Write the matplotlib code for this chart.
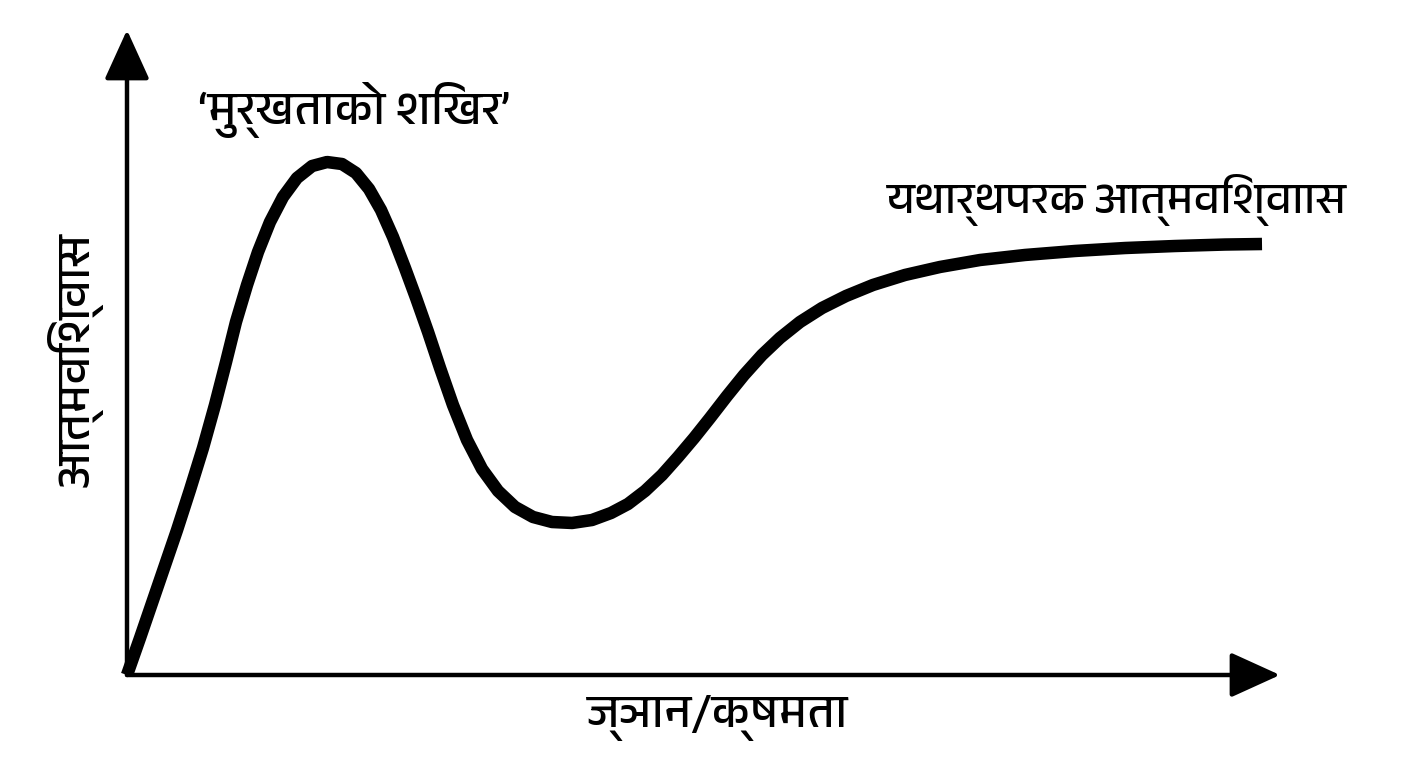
import matplotlib
matplotlib.use('Agg')
import matplotlib.pyplot as plt
from matplotlib import font_manager
from matplotlib.ft2font import FT2Font

# find an installed font that has Devanagari glyphs
deva = None
for f in sorted(font_manager.fontManager.ttflist, key=lambda f: 'Devanagari' not in f.name):
    try:
        if FT2Font(f.fname).get_char_index(0x0915):
            deva = f.name
            break
    except Exception:
        pass
families = [deva, 'DejaVu Sans'] if deva else ['DejaVu Sans']

# knowledge (x) vs confidence (y), 0-100 scale
knowledge = [0, 1.13, 2.17, 3.30, 4.34, 5.46, 6.59, 7.63, 8.59, 9.45, 10.41, 11.36,
             12.40, 13.53, 14.74, 16.05, 17.35, 18.65, 19.86, 20.99, 22.03, 23.07,
             24.11, 25.07, 26.11, 27.15, 28.27, 29.49, 30.79, 32.18, 33.65, 35.21,
             36.86, 38.60, 40.33, 41.98, 43.45, 44.93, 46.40, 47.79, 49.18, 50.56,
             52.04, 53.51, 55.07, 56.63, 58.37, 60.28, 62.36, 64.70, 67.48, 70.51,
             73.98, 77.88, 82.22, 86.56, 90.89, 95.23, 98.44]
confidence = [0, 5.74, 11.16, 17.05, 22.48, 28.68, 35.19, 41.86, 48.53, 54.73, 60.47,
              65.58, 70.23, 74.11, 77.05, 78.91, 79.53, 79.22, 77.83, 75.35, 72.09,
              67.91, 63.10, 58.45, 53.18, 47.60, 41.86, 36.43, 31.94, 28.53, 26.05,
              24.50, 23.72, 23.57, 24.03, 25.12, 26.51, 28.53, 31.01, 33.80, 36.74,
              39.84, 43.26, 46.51, 49.61, 52.25, 54.73, 56.90, 58.76, 60.47, 62.02,
              63.26, 64.34, 65.12, 65.74, 66.20, 66.51, 66.74, 66.82]

x_label = 'ज्ञान/क्षमता'
y_label = 'आत्मविश्वास'
peak_label = '‘मुर्खताको शिखर’'
plateau_label = 'यथार्थपरक आत्मविश्वाास'

W, H = 1408, 768
fig = plt.figure(figsize=(W / 100, H / 100), dpi=100)
ax = fig.add_axes([127 / W, (H - 675) / H, (1280 - 127) / W, (675 - 30) / H])
ax.set_xlim(0, 100)
ax.set_ylim(0, 100)
ax.axis('off')

arrow = dict(arrowstyle='-|>,head_length=0.44,head_width=0.2', lw=3.2, color='black',
             mutation_scale=70, shrinkA=0, shrinkB=0)
ax.annotate('', xy=(0, 100), xytext=(0, 0), arrowprops=arrow, annotation_clip=False)
ax.annotate('', xy=(100, 0), xytext=(0, 0), arrowprops=arrow, annotation_clip=False)

ax.plot(knowledge, confidence, color='black', lw=9, solid_capstyle='butt',
        solid_joinstyle='round', clip_on=False)

fig.text(718 / W, 1 - 718 / H, x_label, family=families, fontsize=34,
         ha='center', va='center')
fig.text(75 / W, 1 - 360 / H, y_label, family=families, fontsize=34, rotation=90,
         ha='center', va='center')
fig.text(354 / W, 1 - 110 / H, peak_label, family=families, fontsize=34,
         ha='center', va='center')
fig.text(1117 / W, 1 - 200 / H, plateau_label, family=families, fontsize=32,
         ha='center', va='center')

fig.savefig('out.png', dpi=100, facecolor='white')
